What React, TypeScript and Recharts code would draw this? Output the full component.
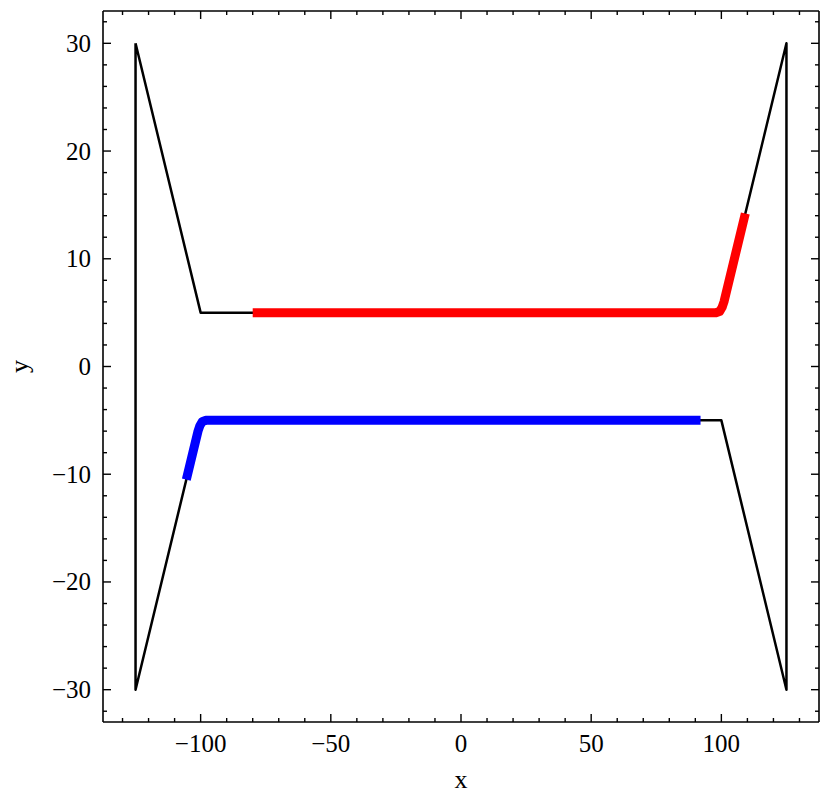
import React from "react";
import { LineChart, Line, XAxis, YAxis } from "recharts";

// outline of the channel (closed loop)
const outlineX = [-125, -100, 100, 125, 125, 100, -100, -125, -125];
const outlineY = [30, 5, 5, 30, -30, -5, -5, -30, 30];

// upper (red) path
const redX = [-80, 98, 99.3, 100.3, 101, 109.2];
const redY = [5, 5, 5.1, 5.5, 6, 14.2];

// lower (blue) path
const blueX = [-105.5, -101, -100.3, -99.3, -98, 92];
const blueY = [-10.5, -6, -5.5, -5.1, -5, -5];

const xMajorTicks = [-100, -50, 0, 50, 100];
const xAllTicks = [
  -130, -120, -110, -100, -90, -80, -70, -60, -50, -40, -30, -20, -10, 0, 10,
  20, 30, 40, 50, 60, 70, 80, 90, 100, 110, 120, 130,
];
const yMajorTicks = [-30, -20, -10, 0, 10, 20, 30];
const yAllTicks = [
  -32, -30, -28, -26, -24, -22, -20, -18, -16, -14, -12, -10, -8, -6, -4, -2,
  0, 2, 4, 6, 8, 10, 12, 14, 16, 18, 20, 22, 24, 26, 28, 30, 32,
];

const toPoints = (xs: number[], ys: number[]) =>
  xs.map((x, i) => ({ x, y: ys[i] }));

const outline = toPoints(outlineX, outlineY);
const red = toPoints(redX, redY);
const blue = toPoints(blueX, blueY);

const FONT = "'Liberation Serif', 'Times New Roman', serif";
const MAJOR = 8;
const MINOR = 4;

const fmt = (v: number) => (v < 0 ? "\u2212" + Math.abs(v) : String(v));

function BottomTick(props: any) {
  const { x, y, payload } = props;
  const major = xMajorTicks.includes(payload.value);
  return (
    <g>
      <line x1={x} x2={x} y1={y} y2={y - (major ? MAJOR : MINOR)} stroke="#000" strokeWidth={1.4} />
      {major && (
        <text x={x} y={y + 30} textAnchor="middle" fontFamily={FONT} fontSize={25} fill="#000">
          {fmt(payload.value)}
        </text>
      )}
    </g>
  );
}

function TopTick(props: any) {
  const { x, y, payload } = props;
  const major = xMajorTicks.includes(payload.value);
  return <line x1={x} x2={x} y1={y} y2={y + (major ? MAJOR : MINOR)} stroke="#000" strokeWidth={1.4} />;
}

function LeftTick(props: any) {
  const { x, y, payload } = props;
  const major = yMajorTicks.includes(payload.value);
  return (
    <g>
      <line x1={x} x2={x + (major ? MAJOR : MINOR)} y1={y} y2={y} stroke="#000" strokeWidth={1.4} />
      {major && (
        <text x={x - 12} y={y + 8.5} textAnchor="end" fontFamily={FONT} fontSize={25} fill="#000">
          {fmt(payload.value)}
        </text>
      )}
    </g>
  );
}

function RightTick(props: any) {
  const { x, y, payload } = props;
  const major = yMajorTicks.includes(payload.value);
  return <line x1={x} x2={x - (major ? MAJOR : MINOR)} y1={y} y2={y} stroke="#000" strokeWidth={1.4} />;
}

const axisLine = { stroke: "#000", strokeWidth: 1.6 };

export default function App() {
  return (
    <div style={{ position: "absolute", left: 0, top: 0, background: "#fff" }}>
      <LineChart width={831} height={804} margin={{ top: 10, right: 11, bottom: 81, left: 102 }}>
        <XAxis
          dataKey="x"
          type="number"
          domain={[-137.5, 137.5]}
          ticks={xAllTicks}
          interval={0}
          allowDataOverflow
          height={1}
          tickSize={0}
          tickMargin={0}
          tickLine={false}
          axisLine={axisLine}
          tick={<BottomTick />}
          label={{
            content: (p: any) => {
              const vb = p.viewBox || { x: 103, y: 722, width: 716 };
              return (
                <text x={vb.x + vb.width / 2} y={vb.y + 66} textAnchor="middle" fontFamily={FONT} fontSize={26} fill="#000">
                  x
                </text>
              );
            },
          }}
        />
        <XAxis
          xAxisId="top"
          orientation="top"
          dataKey="x"
          type="number"
          domain={[-137.5, 137.5]}
          ticks={xAllTicks}
          interval={0}
          allowDataOverflow
          height={1}
          tickSize={0}
          tickMargin={0}
          tickLine={false}
          axisLine={axisLine}
          tick={<TopTick />}
        />
        <YAxis
          dataKey="y"
          type="number"
          domain={[-33, 33]}
          ticks={yAllTicks}
          interval={0}
          allowDataOverflow
          width={1}
          tickSize={0}
          tickMargin={0}
          tickLine={false}
          axisLine={axisLine}
          tick={<LeftTick />}
          label={{
            content: (p: any) => {
              const vb = p.viewBox || { x: 102, y: 11, width: 1, height: 711 };
              const cx = vb.x + (vb.width || 0) - 75;
              const cy = vb.y + vb.height / 2;
              return (
                <text x={cx} y={cy} transform={`rotate(-90, ${cx}, ${cy})`} textAnchor="middle" fontFamily={FONT} fontSize={26} fill="#000">
                  y
                </text>
              );
            },
          }}
        />
        <YAxis
          yAxisId="right"
          orientation="right"
          dataKey="y"
          type="number"
          domain={[-33, 33]}
          ticks={yAllTicks}
          interval={0}
          allowDataOverflow
          width={1}
          tickSize={0}
          tickMargin={0}
          tickLine={false}
          axisLine={axisLine}
          tick={<RightTick />}
        />
        <Line
          data={outline}
          dataKey="y"
          type="linear"
          stroke="#000"
          strokeWidth={2.5}
          strokeLinejoin="round"
          dot={false}
          activeDot={false}
          isAnimationActive={false}
        />
        <Line
          data={red}
          dataKey="y"
          type="linear"
          stroke="#ff0000"
          strokeWidth={9}
          strokeLinejoin="round"
          dot={false}
          activeDot={false}
          isAnimationActive={false}
        />
        <Line
          data={blue}
          dataKey="y"
          type="linear"
          stroke="#0000ff"
          strokeWidth={9}
          strokeLinejoin="round"
          dot={false}
          activeDot={false}
          isAnimationActive={false}
        />
      </LineChart>
    </div>
  );
}
